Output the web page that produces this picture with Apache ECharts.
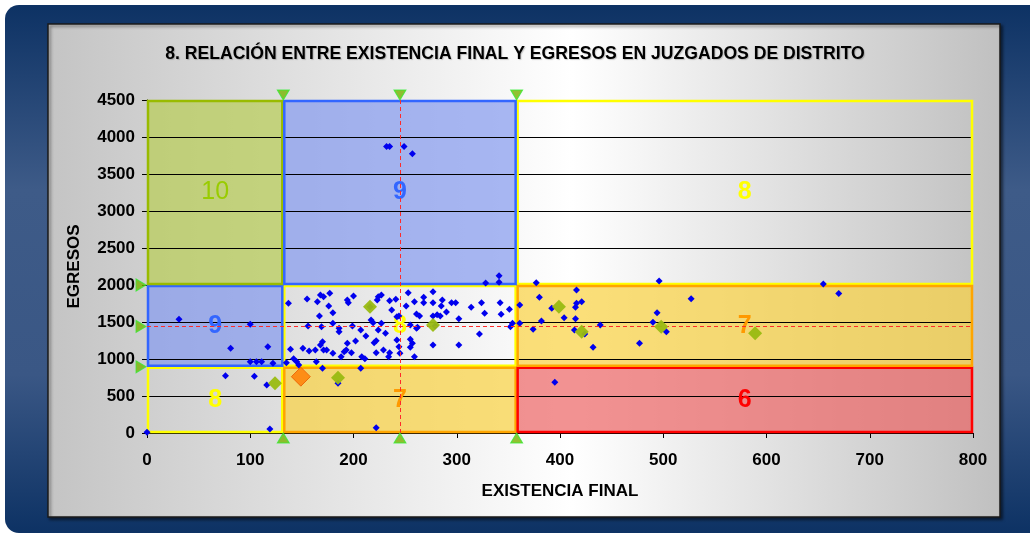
<!DOCTYPE html>
<html><head><meta charset="utf-8">
<script src="https://cdn.jsdelivr.net/npm/echarts@6/dist/echarts.min.js"></script>
<style>html,body{margin:0;padding:0;background:#fff}#c{width:1030px;height:534px}</style>
</head><body><div id="c"></div>
<script>
const titleText = '8. RELACIÓN ENTRE EXISTENCIA FINAL Y EGRESOS EN JUZGADOS DE DISTRITO';
const xName = 'EXISTENCIA FINAL';
const yName = 'EGRESOS';
const xBounds = [0, 132, 358, 800];
const yBounds = [0, 895, 2000, 4500];
const xMean = 245;
const yMean = 1440;
// rows bottom->top, cols left->right
const zoneScores = [[8, 7, 6], [9, 8, 7], [10, 9, 8]];

const juzgados = [
  [232,3870],[235,3870],[249,3870],[257,3775],[328,2027],[341,2126],[341,2036],
  [137,1752],[155,1811],[168,1865],[171,1842],[177,1887],[165,1775],[176,1716],[194,1797],[195,1761],
  [200,1851],[216,1707],[224,1842],[227,1865],[223,1797],[235,1788],[241,1806],[237,1662],[242,1572],
  [251,1716],[253,1896],[259,1775],[268,1833],[268,1761],[277,1910],[277,1761],[286,1797],[285,1716],
  [295,1761],[299,1761],[314,1698],[324,1761],[342,1761],[351,1671],[327,1617],[343,1604],[302,1545],
  [261,1608],[264,1581],[277,1581],[281,1599],[284,1581],[290,1635],[217,1527],[219,1491],[227,1482],
  [167,1581],[180,1626],[180,1482],[156,1446],[169,1437],[186,1414],[186,1369],[199,1446],[207,1392],
  [224,1392],[255,1459],[262,1428],[279,1446],[322,1338],[352,1437],[354,1482],[277,1189],[302,1189],
  [231,1347],[242,1257],[212,1311],[220,1221],[222,1248],[202,1243],[194,1212],[191,1099],[188,1032],
  [193,1122],[198,1086],[170,1234],[168,1189],[163,1122],[171,1122],[174,1122],[151,1144],[139,1131],
  [157,1108],[180,1077],[208,1032],[211,1004],[222,1086],[229,1122],[234,1032],[235,1086],[244,1167],
  [245,1077],[255,1158],[257,1212],[259,1032],[255,1266],[142,1004],[145,964],[164,964],[135,950],
  [147,919],[170,874],[207,874],[244,1581],[261,1414],
  [31,1536],[100,1468],[81,1144],[117,1166],[100,964],[106,964],[111,964],[122,942],
  [76,774],[104,766],[116,649],[119,54],[0,10],
  [185,672],[222,72],
  [377,2032],[496,2054],[655,2014],[670,1885],[416,1932],[380,1833],[361,1730],[392,1685],[416,1752],
  [421,1775],[415,1698],[527,1815],[494,1626],[404,1559],[415,1545],[382,1514],[439,1459],[490,1495],
  [374,1401],[414,1392],[424,1338],[503,1369],[432,1158],[477,1212],[361,1482],[395,685]
];
const referencias = [[216,1707],[277,1459],[185,748],[124,672],[399,1707],[421,1369],[498,1437],[589,1347]];
const destacado = [[149,761]];

const zoneStyle = {
  6: {fill: 'rgba(236,100,100,0.7)', stroke: '#ff0000', text: '#ff0000', weight: 'bold'},
  7: {fill: 'rgba(250,210,64,0.7)', stroke: '#ffa500', text: '#ff9900', weight: 'bold'},
  8: {fill: 'rgba(255,255,255,0)', stroke: '#ffff00', text: '#ffff00', weight: 'bold'},
  9: {fill: 'rgba(132,154,239,0.7)', stroke: '#3366ff', text: '#3366ff', weight: 'bold'},
  10: {fill: 'rgba(184,205,84,0.7)', stroke: '#99bb00', text: '#99cc00', weight: 'normal'}
};

const zones = [];
for (let r = 0; r < 3; r++) {
  for (let c = 0; c < 3; c++) {
    zones.push([xBounds[c], xBounds[c + 1], yBounds[r], yBounds[r + 1], zoneScores[r][c]]);
  }
}
// draw white(8) zones first so coloured borders sit on top
zones.sort((a, b) => (a[4] === 8 ? 0 : 1) - (b[4] === 8 ? 0 : 1));

const xMarks = [xBounds[1], xMean, xBounds[2]];
const yMarks = [yBounds[2], yMean, yBounds[1]];
const yMax = yBounds[3], xMax = xBounds[3];

function zoneRect(api) {
  const p0 = api.coord([api.value(0), api.value(3)]);
  const p1 = api.coord([api.value(1), api.value(2)]);
  return {x: p0[0] + 1, y: p0[1] + 1, width: p1[0] - p0[0] - 2, height: p1[1] - p0[1] - 2};
}

const font = "'Liberation Sans', Arial, sans-serif";
const triStyle = {color: '#77b300', borderColor: '#33ee33', borderWidth: 1};

const chart = echarts.init(document.getElementById('c'));
chart.setOption({
  animation: false,
  graphic: [
    {type: 'rect', z: -100, shape: {x: 5, y: 5, width: 1040, height: 528, r: 14},
      style: {fill: new echarts.graphic.LinearGradient(0, 0, 0, 1, [
        {offset: 0, color: '#0d3264'}, {offset: 0.35, color: '#3e5b88'}, {offset: 0.7, color: '#3a5785'}, {offset: 1, color: '#0d3264'}])}},
    {type: 'rect', z: -99, shape: {x: 48, y: 24, width: 952, height: 493},
      style: {fill: new echarts.graphic.LinearGradient(0, 0, 1, 0, [
        {offset: 0, color: '#c4c4c4'}, {offset: 0.55, color: '#ffffff'}, {offset: 1, color: '#c0c0c0'}]),
        stroke: '#1a1a1a', lineWidth: 1.5, shadowColor: 'rgba(0,0,0,0.5)', shadowBlur: 3, shadowOffsetX: 2, shadowOffsetY: 2}}
  ],
  title: {
    text: titleText, left: 'center', top: 40,
    textStyle: {fontFamily: font, fontSize: 17.6, fontWeight: 'bold', color: '#000',
      textShadowColor: 'rgba(0,0,0,0.2)', textShadowOffsetX: 1, textShadowOffsetY: 1, textShadowBlur: 1}
  },
  grid: {left: 147, right: 57, top: 100, bottom: 101, containLabel: false},
  xAxis: {
    type: 'value', min: 0, max: xMax, interval: 100, z: 1,
    name: xName, nameLocation: 'middle', nameGap: 50,
    nameTextStyle: {fontFamily: font, fontSize: 17, fontWeight: 'bold', color: '#000'},
    axisLine: {show: true, lineStyle: {color: '#000', width: 1}},
    axisTick: {show: true, length: 5, lineStyle: {color: '#000'}},
    axisLabel: {margin: 19, fontFamily: font, fontSize: 17, fontWeight: 'bold', color: '#000',
      formatter: v => String(v)},
    splitLine: {show: false}
  },
  yAxis: {
    type: 'value', min: 0, max: yMax, interval: 500, z: 1,
    name: yName, nameLocation: 'middle', nameGap: 64, nameRotate: 90,
    nameTextStyle: {fontFamily: font, fontSize: 17, fontWeight: 'bold', color: '#000'},
    axisLine: {show: true, lineStyle: {color: '#000', width: 1}},
    axisTick: {show: true, length: 5, lineStyle: {color: '#000'}},
    axisLabel: {margin: 12, fontFamily: font, fontSize: 17, fontWeight: 'bold', color: '#000',
      formatter: v => String(v)},
    splitLine: {show: true, lineStyle: {color: '#000', width: 1}}
  },
  series: [
    {
      type: 'custom', z: 0, silent: true, data: zones,
      renderItem: function (params, api) {
        const s = zoneStyle[api.value(4)];
        return {type: 'rect', shape: zoneRect(api), style: {fill: s.fill}};
      }
    },
    {
      type: 'custom', z: 3, silent: true, data: zones,
      renderItem: function (params, api) {
        const s = zoneStyle[api.value(4)];
        const r = zoneRect(api);
        return {type: 'group', children: [
          {type: 'rect', shape: r, style: {fill: 'none', stroke: s.stroke, lineWidth: 2.5}},
          {type: 'text', style: {text: String(api.value(4)), x: r.x + r.width / 2, y: r.y + r.height / 2,
            align: 'center', verticalAlign: 'middle', fill: s.text,
            fontFamily: font, fontSize: 25, fontWeight: s.weight}}
        ]};
      }
    },
    {
      type: 'line', z: 3, data: [], silent: true,
      markLine: {
        silent: true, symbol: 'none', label: {show: false},
        lineStyle: {color: '#ff2a2a', type: [4, 3], width: 1},
        data: [
          [{coord: [xMean, 0]}, {coord: [xMean, yMax]}],
          [{coord: [0, yMean]}, {coord: [xMax, yMean]}]
        ]
      }
    },
    {
      type: 'scatter', z: 4, symbol: 'diamond', symbolSize: 7, data: juzgados,
      itemStyle: {color: '#0000ee', opacity: 1}
    },
    {
      type: 'scatter', z: 5, symbol: 'diamond', symbolSize: 14, data: referencias,
      itemStyle: {color: '#99bb11', opacity: 0.95}
    },
    {
      type: 'scatter', z: 5, symbol: 'diamond', symbolSize: 19, data: destacado,
      itemStyle: {color: '#ff7a00', borderColor: '#e85a00', borderWidth: 1}
    },
    {
      type: 'scatter', z: 6, clip: false, symbol: 'triangle', symbolSize: [12, 10], symbolRotate: 180,
      symbolOffset: [0, -5], data: xMarks.map(v => [v, yMax]), itemStyle: triStyle
    },
    {
      type: 'scatter', z: 6, clip: false, symbol: 'triangle', symbolSize: [12, 10], symbolRotate: 0,
      symbolOffset: [0, 5], data: xMarks.map(v => [v, 0]), itemStyle: triStyle
    },
    {
      type: 'scatter', z: 6, clip: false, symbol: 'triangle', symbolSize: [12, 10], symbolRotate: -90,
      symbolOffset: [-6, 0], data: yMarks.map(v => [0, v]), itemStyle: triStyle
    }
  ]
});
</script>
</body></html>
